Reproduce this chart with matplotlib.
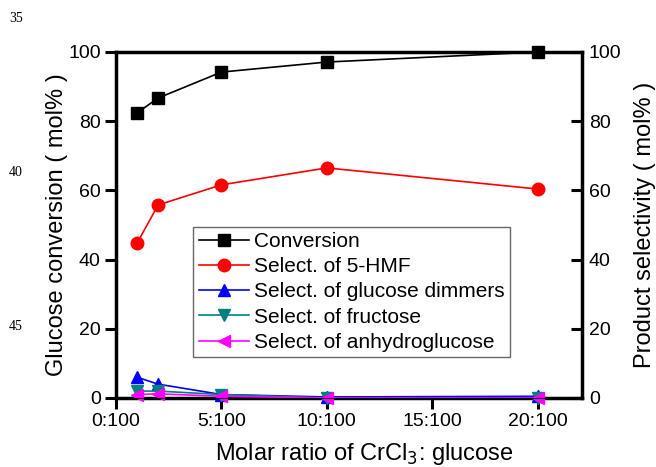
import matplotlib
matplotlib.use('Agg')
import matplotlib.pyplot as plt

plt.rcParams['font.family'] = ['Liberation Sans', 'DejaVu Sans']

ratio = [1, 2, 5, 10, 20]
conversion = [82.4, 86.7, 94.2, 97.1, 100.0]
hmf = [44.8, 55.8, 61.6, 66.5, 60.4]
dimmers = [6.0, 4.0, 1.0, 0.3, 0.5]
fructose = [2.0, 2.0, 1.0, 0.0, 0.0]
anhydro = [1.0, 1.2, 0.5, 0.0, 0.0]

xticks = [0, 5, 10, 15, 20]
xticklabels = ['0:100', '5:100', '10:100', '15:100', '20:100']
yticks = [0, 20, 40, 60, 80, 100]

fig = plt.figure(figsize=(6.56, 4.67), dpi=100)
ax = fig.add_axes([116 / 656, 69 / 467, 466 / 656, 346 / 467])

ax.plot(ratio, conversion, color='black', marker='s', markersize=9, lw=1.2,
        label='Conversion', clip_on=False, zorder=5)
ax.plot(ratio, hmf, color='red', marker='o', markersize=9, lw=1.2,
        label='Select. of 5-HMF', clip_on=False, zorder=5)
ax.plot(ratio, dimmers, color='blue', marker='^', markersize=9, lw=1.2,
        label='Select. of glucose dimmers', clip_on=False, zorder=5)
ax.plot(ratio, fructose, color='#00807f', marker='v', markersize=9, lw=1.2,
        label='Select. of fructose', clip_on=False, zorder=5)
ax.plot(ratio, anhydro, color='magenta', marker='<', markersize=9, lw=1.2,
        label='Select. of anhydroglucose', clip_on=False, zorder=5)

ax.set_xlim(0, 22.1)
ax.set_ylim(0, 100)
ax.set_xticks(xticks)
ax.set_xticklabels(xticklabels)
ax.set_yticks(yticks)
ax.tick_params(axis='both', direction='out', length=8, width=2.2, labelsize=14,
               pad=3)
for s in ax.spines.values():
    s.set_linewidth(2.5)

ax.set_xlabel('Molar ratio of CrCl$_3$: glucose', fontsize=17)
ax.xaxis.set_label_coords(0.532, -0.125)
ax.set_ylabel('Glucose conversion ( mol% )', fontsize=17, labelpad=0)

ax2 = ax.twinx()
ax2.set_ylim(0, 100)
ax2.set_yticks(yticks)
ax2.tick_params(axis='y', direction='in', length=8, width=2.2, labelsize=14,
                pad=5)
ax2.set_ylabel('Product selectivity ( mol% )', fontsize=17, labelpad=9)

leg = ax.legend(loc='lower left', bbox_to_anchor=(0.166, 0.118), fontsize=15,
                frameon=True, fancybox=False, edgecolor='#444444',
                handlelength=2.4, labelspacing=0.3, borderpad=0.25,
                handletextpad=0.25, borderaxespad=0)
leg.get_frame().set_linewidth(1)

for y, t in [(18, '35'), (172, '40'), (327, '45')]:
    fig.text(16 / 656, 1 - y / 467, t, fontsize=10, family='Liberation Serif',
             ha='center', va='center')

fig.savefig('out.png', dpi=100)
